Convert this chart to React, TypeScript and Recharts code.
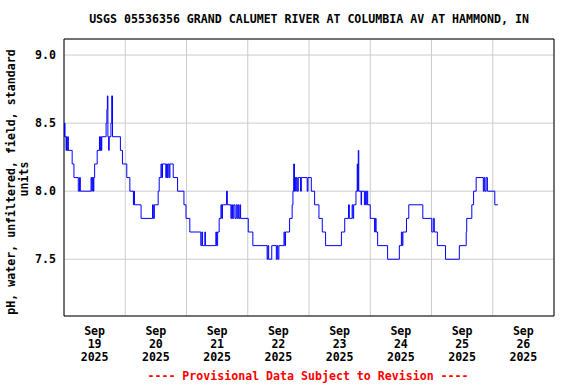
import React from 'react';
import { LineChart, Line, XAxis, YAxis, CartesianGrid, ReferenceArea } from 'recharts';

const FONT = '"DejaVu Sans Mono", monospace';

const TITLE = 'USGS 05536356 GRAND CALUMET RIVER AT COLUMBIA AV AT HAMMOND, IN';
const FOOTER = '---- Provisional Data Subject to Revision ----';
const Y_LABEL_1 = 'pH, water, unfiltered, field, standard';
const Y_LABEL_2 = 'units';

// hours since 2025-09-19 00:00
const X_DOMAIN = [0, 192];
const Y_DOMAIN = [7.083, 9.118];
const midnightTicks = [24, 48, 72, 96, 120, 144, 168];
const noonTicks = [12, 36, 60, 84, 108, 132, 156, 180];
const dayMonths = ['Sep', 'Sep', 'Sep', 'Sep', 'Sep', 'Sep', 'Sep', 'Sep'];
const dayNumbers = ['19', '20', '21', '22', '23', '24', '25', '26'];
const dayYears = ['2025', '2025', '2025', '2025', '2025', '2025', '2025', '2025'];
const yTicks = [7.5, 8.0, 8.5, 9.0];

const times = [
  0, 0.2, 0.4, 0.8, 1.0, 1.2, 1.5, 1.7, 3.2, 3.9, 5.6, 6.1, 6.4, 10.6, 10.9, 11.1, 11.5, 11.7, 12.0, 13.0,
  13.9, 14.1, 14.4, 14.6, 14.8, 16.5, 16.8, 17.0, 17.2, 17.5, 17.7, 18.4, 18.7, 19.0, 22.1, 22.9, 24.6, 25.8, 27.2, 27.4,
  27.6, 30.2, 34.7, 35.0, 35.4, 36.9, 37.3, 38.0, 38.3, 38.6, 39.9, 40.2, 40.5, 40.8, 41.2, 41.5, 42.8, 44.5, 47.0, 47.8,
  49.3, 53.6, 54.0, 54.3, 55.2, 55.4, 59.5, 59.8, 60.2, 60.8, 61.5, 61.8, 62.1, 63.7, 64.0, 65.4, 65.7, 66.0, 66.5, 67.0,
  67.5, 67.9, 68.3, 68.6, 69.0, 69.2, 72.2, 74.0, 79.6, 79.9, 80.2, 81.4, 83.2, 83.5, 83.8, 84.2, 86.2, 86.5, 86.8, 88.4,
  89.4, 89.7, 90.0, 90.3, 90.5, 90.8, 91.0, 91.4, 91.8, 92.7, 93.0, 95.3, 95.6, 96.9, 98.2, 99.9, 101.2, 102.5, 108.7, 110.0,
  111.5, 111.8, 112.9, 113.2, 113.5, 114.4, 114.9, 115.1, 115.3, 115.5, 116.4, 116.6, 117.7, 118.1, 118.4, 118.7, 119.0, 120.0, 121.7, 122.0,
  122.3, 122.9, 126.8, 131.4, 132.2, 132.5, 132.8, 134.2, 135.1, 140.6, 144.1, 144.7, 145.1, 146.3, 149.5, 154.9, 157.6, 157.8, 159.8, 160.5,
  161.5, 164.3, 164.6, 164.9, 165.4, 165.9, 168.8, 170.0,
];

const phValues = [
  8.4, 8.5, 8.4, 8.3, 8.4, 8.3, 8.4, 8.3, 8.2, 8.1, 8.0, 8.1, 8.0, 8.1, 8.0, 8.1, 8.0, 8.1, 8.2, 8.3,
  8.4, 8.3, 8.4, 8.3, 8.4, 8.5, 8.6, 8.7, 8.4, 8.3, 8.4, 8.5, 8.7, 8.4, 8.3, 8.2, 8.1, 8.0, 7.9, 8.0,
  7.9, 7.8, 7.9, 7.8, 7.9, 8.0, 8.1, 8.2, 8.1, 8.2, 8.1, 8.2, 8.1, 8.2, 8.1, 8.2, 8.1, 8.0, 7.9, 7.8,
  7.7, 7.6, 7.7, 7.6, 7.7, 7.6, 7.7, 7.6, 7.7, 7.8, 7.9, 7.8, 7.9, 8.0, 7.9, 7.8, 7.9, 7.8, 7.9, 7.8,
  7.9, 7.8, 7.9, 7.8, 7.9, 7.8, 7.7, 7.6, 7.5, 7.6, 7.5, 7.6, 7.5, 7.6, 7.5, 7.6, 7.7, 7.6, 7.7, 7.8,
  7.9, 8.0, 8.2, 8.0, 8.1, 8.0, 8.1, 8.0, 8.1, 8.0, 8.1, 8.0, 8.1, 8.0, 7.9, 7.8, 7.7, 7.6, 7.7, 7.8,
  7.9, 7.8, 7.9, 7.8, 7.9, 8.0, 8.2, 8.0, 8.3, 8.0, 7.9, 8.0, 7.9, 8.0, 7.9, 8.0, 7.9, 7.8, 7.7, 7.8,
  7.7, 7.6, 7.5, 7.6, 7.7, 7.6, 7.7, 7.8, 7.9, 7.8, 7.7, 7.8, 7.7, 7.6, 7.5, 7.6, 7.7, 7.8, 7.9, 8.0,
  8.1, 8.0, 8.1, 8.0, 8.1, 8.0, 7.9, 7.9,
];

const data = times.map((h, i) => ({ h, v: phValues[i] }));

const DayTick = (props: any) => {
  const { x, payload } = props;
  const i = noonTicks.indexOf(payload.value);
  if (i < 0) return null;
  const y0 = 316;
  return (
    <text x={x} y={y0} textAnchor="middle" fontFamily={FONT} fontWeight="bold" fontSize={11.6} fill="#000">
      <tspan x={x} dy={18.5}>{dayMonths[i]}</tspan>
      <tspan x={x} dy={13.4}>{dayNumbers[i]}</tspan>
      <tspan x={x} dy={13.4}>{dayYears[i]}</tspan>
    </text>
  );
};

const YLabel = () => (
  <g>
    <text transform="translate(14.5,182) rotate(-90)" textAnchor="middle" fontFamily={FONT} fontWeight="bold" fontSize={11.6} fill="#000">
      {Y_LABEL_1}
    </text>
    <text transform="translate(28.3,179) rotate(-90)" textAnchor="middle" fontFamily={FONT} fontWeight="bold" fontSize={11.6} fill="#000">
      {Y_LABEL_2}
    </text>
  </g>
);

export default function App() {
  return (
    <div style={{ position: 'absolute', left: 0, top: 0, width: 576, height: 384, background: '#fff' }}>
      <div
        style={{
          position: 'absolute', left: 64, width: 490, top: 12, textAlign: 'center',
          fontFamily: FONT, fontWeight: 'bold', fontSize: 11.6, lineHeight: '14px', color: '#000', whiteSpace: 'nowrap',
        }}
      >
        {TITLE}
      </div>
      <LineChart width={576} height={384} data={data} margin={{ top: 39, right: 22, bottom: 0, left: 0 }}>
        <CartesianGrid stroke="#cccccc" strokeWidth={1} />
        <XAxis dataKey="h" type="number" domain={X_DOMAIN} ticks={midnightTicks} hide allowDataOverflow />
        <XAxis
          xAxisId="lab" dataKey="h" type="number" domain={X_DOMAIN} ticks={noonTicks} interval={0}
          height={68} tick={<DayTick />} tickLine={false} axisLine={false} tickSize={0} tickMargin={0} allowDataOverflow
        />
        <YAxis
          type="number" domain={Y_DOMAIN} ticks={yTicks} width={64} allowDataOverflow
          tickFormatter={(v: number) => v.toFixed(1)} tickLine={false} axisLine={false}
          tick={{ fontFamily: FONT, fontWeight: 'bold', fontSize: 11.6, fill: '#000' }}
          label={<YLabel />}
        />
        <ReferenceArea x1={X_DOMAIN[0]} x2={X_DOMAIN[1]} y1={Y_DOMAIN[0]} y2={Y_DOMAIN[1]} fill="none" fillOpacity={0} stroke="#000" strokeWidth={1} />
        <Line dataKey="v" type="stepAfter" stroke="#0000ff" strokeWidth={1} dot={false} isAnimationActive={false} />
      </LineChart>
      <div
        style={{
          position: 'absolute', left: 0, width: 616, top: 369, textAlign: 'center',
          fontFamily: FONT, fontWeight: 'bold', fontSize: 11.6, lineHeight: '14px', color: '#ff0000', whiteSpace: 'nowrap',
        }}
      >
        {FOOTER}
      </div>
    </div>
  );
}
